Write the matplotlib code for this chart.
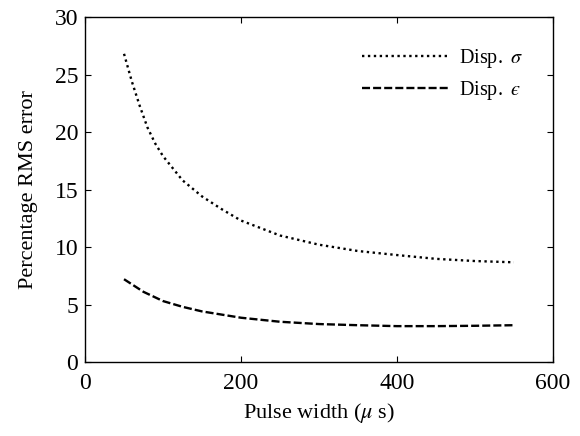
import matplotlib
matplotlib.use("Agg")
import matplotlib.pyplot as plt

plt.rcParams['font.family'] = ['Liberation Serif', 'DejaVu Serif']
plt.rcParams['mathtext.fontset'] = 'stix'

# values
sigma_x = [50, 60, 70, 80, 90, 100, 125, 150, 175, 200, 250, 300, 350, 400, 450, 500, 550]
disp_sigma = [26.8, 24.4, 22.3, 20.4, 19.0, 17.9, 15.8, 14.4, 13.3, 12.3, 11.0, 10.2,
              9.65, 9.3, 8.97, 8.78, 8.67]
eps_x = [50, 75, 100, 125, 150, 200, 250, 300, 350, 400, 450, 500, 550]
disp_eps = [7.2, 6.1, 5.3, 4.8, 4.4, 3.85, 3.5, 3.3, 3.2, 3.12, 3.12, 3.15, 3.2]

fig = plt.figure(figsize=(5.8, 4.36), dpi=100)
ax = fig.add_axes([0.1466, 0.1697, 0.8068, 0.7913])

ax.plot(sigma_x, disp_sigma, color='black', lw=1.7,
        linestyle=(0, (1, 1.5)), label='Disp.$\\;\\;\\sigma$')
ax.plot(eps_x, disp_eps, color='black', lw=1.7,
        linestyle=(0, (3.4, 1.3)), label='Disp.$\\;\\;\u03f5$')

ax.set_xlim(0, 600)
ax.set_ylim(0, 30)
ax.set_xticks([0, 200, 400, 600])
ax.set_yticks([0, 5, 10, 15, 20, 25, 30])
ax.tick_params(direction='in', length=4, top=True, right=True, labelsize=17)
ax.tick_params(axis='x', pad=8)
ax.tick_params(axis='y', pad=5)
for s in ax.spines.values():
    s.set_linewidth(1.0)

ax.set_xlabel('Pulse width ($\\mu$ s)', fontsize=16, labelpad=5)
ax.set_ylabel('Percentage RMS error', fontsize=16, labelpad=12)

ax.legend(loc='upper right', frameon=False, fontsize=14.5, handlelength=4.3,
          handletextpad=0.5, labelspacing=0.45, borderaxespad=1.1)

fig.savefig('out.png', dpi=100)
